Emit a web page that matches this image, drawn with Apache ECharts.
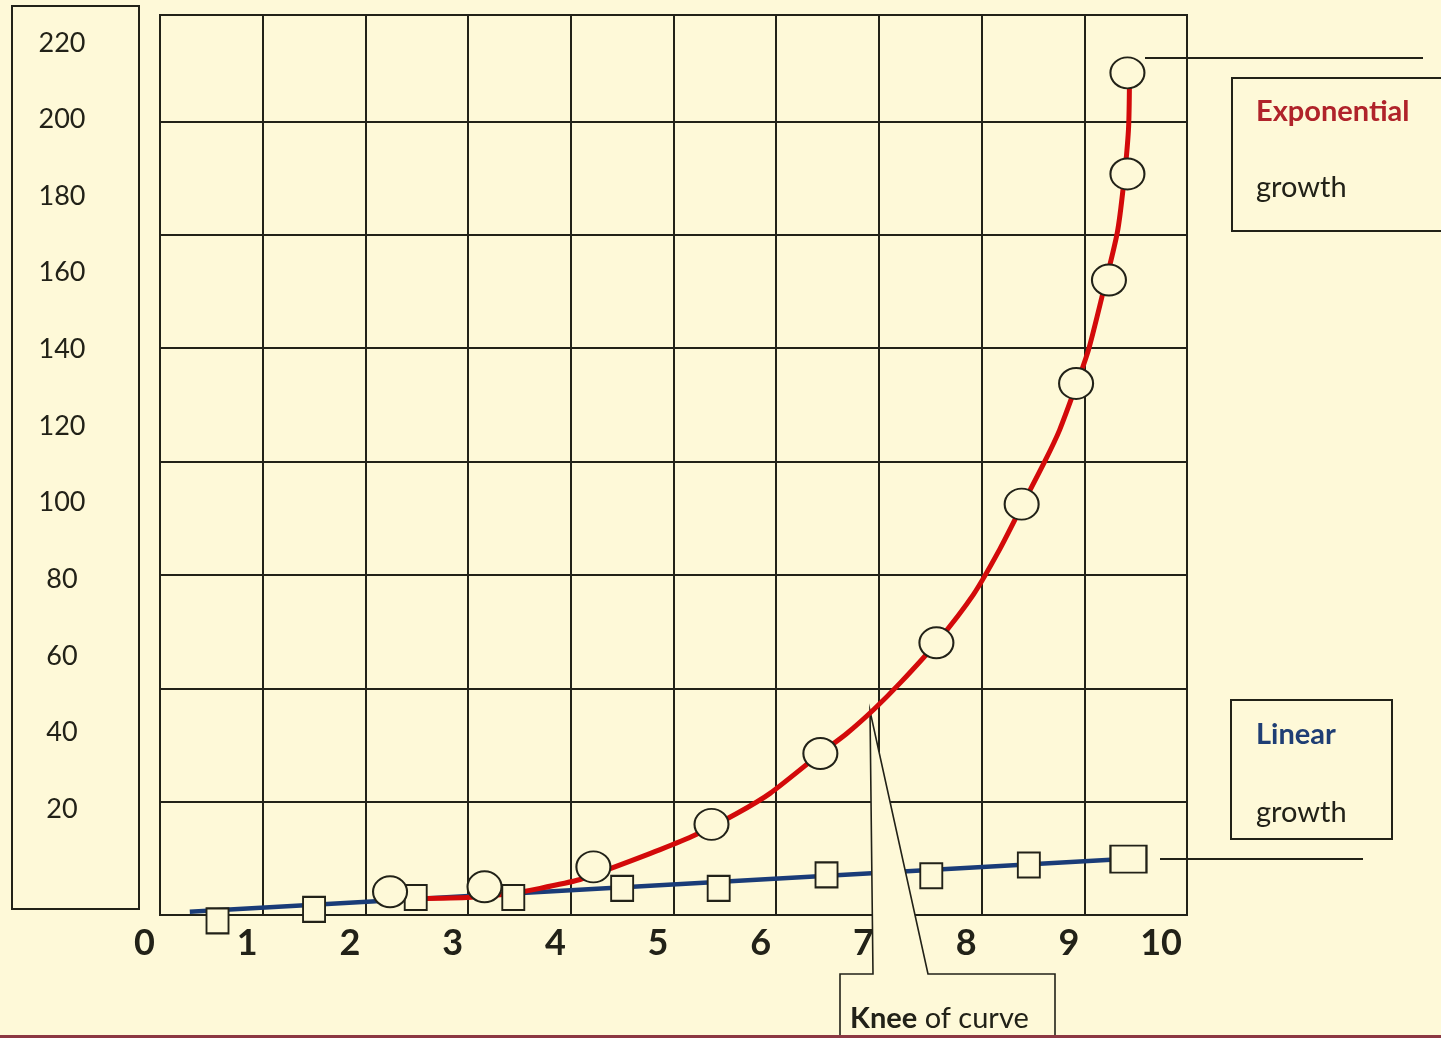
<!DOCTYPE html>
<html>
<head>
<meta charset="utf-8">
<script src="https://cdn.jsdelivr.net/npm/echarts@6/dist/echarts.min.js"></script>
<style>
html,body{margin:0;padding:0;background:#FEF9D8;}
#chart{width:1441px;height:1038px;}
</style>
</head>
<body>
<div id="chart"></div>
<script>
// ---- data ----
const yLabelValues = [20, 40, 60, 80, 100, 120, 140, 160, 180, 200, 220];
const xTickValues = [0, 1, 2, 3, 4, 5, 6, 7, 8, 9, 10];

// Exponential growth: marked points (circles)
const exponentialPoints = [
  [2.24, -1.6], [3.16, -0.3], [4.22, 4.9], [5.37, 16.0], [6.43, 34.5],
  [7.56, 63.4], [8.39, 99.6], [8.92, 131.1], [9.24, 158.1], [9.42, 185.8], [9.42, 212.2]
];
// Exponential growth: drawn curve
const exponentialCurve = [
  [2.36, -3.4], [2.99, -3.1], [3.38, -2.2], [3.70, -0.7], [4.09, 1.6], [4.35, 4.1],
  [4.87, 9.4], [5.21, 13.2], [5.62, 18.9], [5.94, 24.1], [6.43, 34.5], [6.69, 39.8],
  [6.95, 46.0], [7.21, 53.0], [7.56, 63.4], [7.92, 76.0], [8.18, 88.0], [8.39, 99.0],
  [8.62, 111.0], [8.76, 119.0], [8.92, 130.5], [9.04, 139.8], [9.18, 154.6], [9.32, 170.3],
  [9.38, 182.5], [9.43, 197.3], [9.44, 210.3]
];
// Linear growth: marked points (squares)
const linearPoints = [
  [0.56, -9.2], [1.50, -6.2], [2.49, -3.1], [3.44, -3.1], [4.50, -0.7],
  [5.44, -0.7], [6.49, 2.8], [7.51, 2.6], [8.46, 5.4], [9.43, 6.9]
];
// Linear growth: drawn straight line
const linearTrend = [[0.29, -6.8], [9.43, 7.0]];

// ---- chart ----
const BG = '#FEF9D8';
const INK = '#222218';
const chart = echarts.init(document.getElementById('chart'));

const ellipse = 'path://M0,1 A1,1 0 1,1 2,1 A1,1 0 1,1 0,1 Z';

chart.setOption({
  backgroundColor: BG,
  animation: false,
  grid: {
    left: 160, right: 254, top: 15, bottom: 123,
    show: true, borderColor: INK, borderWidth: 2, backgroundColor: 'transparent'
  },
  xAxis: {
    type: 'value', min: 0, max: 10, interval: 1,
    axisLine: { show: false }, axisTick: { show: false },
    splitLine: { show: true, lineStyle: { color: INK, width: 2 } },
    axisLabel: {
      show: true, margin: 10, align: 'right',
      padding: [0, 5, 0, 0],
      fontFamily: 'Lato', fontWeight: 'bold', fontSize: 36, color: INK,
      customValues: xTickValues
    }
  },
  yAxis: [
    {
      type: 'value', min: -7.66, max: 227.3,
      axisLine: { show: false }, axisTick: { show: false },
      splitLine: { show: false },
      axisLabel: {
        show: true, margin: 98, align: 'center',
        fontFamily: 'Lato', fontSize: 27, color: INK,
        customValues: yLabelValues
      }
    },
    {
      type: 'value', min: 0, max: 7.94, interval: 1, position: 'left',
      axisLine: { show: false }, axisTick: { show: false },
      axisLabel: { show: false },
      splitLine: { show: true, lineStyle: { color: INK, width: 2 } }
    }
  ],
  series: [
    {
      name: 'Linear growth line', type: 'line', data: linearTrend,
      symbol: 'none', z: 2, clip: false,
      lineStyle: { color: '#1A3C78', width: 4.5 }
    },
    {
      name: 'Exponential growth curve', type: 'line', data: exponentialCurve,
      symbol: 'none', smooth: 0.25, z: 4, clip: false,
      lineStyle: { color: '#D30A0A', width: 5 }
    },
    {
      name: 'Linear growth', type: 'scatter', data: linearPoints,
      symbol: 'rect', z: 4, clip: false,
      symbolSize: function (v, p) { return p.dataIndex === linearPoints.length - 1 ? [36, 27] : [22, 25]; },
      itemStyle: { color: BG, borderColor: INK, borderWidth: 2, opacity: 1 }
    },
    {
      name: 'Exponential growth', type: 'scatter', data: exponentialPoints,
      symbol: ellipse, symbolSize: [34, 31], z: 5, clip: false,
      itemStyle: { color: BG, borderColor: INK, borderWidth: 2, opacity: 1 }
    }
  ],
  graphic: [
    // y label box
    { type: 'rect', z: 1, shape: { x: 12, y: 6, width: 127, height: 903 },
      style: { fill: 'transparent', stroke: INK, lineWidth: 2 } },
    // Exponential growth box + leader line
    { type: 'line', z: 1, shape: { x1: 1145, y1: 58, x2: 1423, y2: 58 },
      style: { stroke: INK, lineWidth: 1.8 } },
    { type: 'rect', z: 1, shape: { x: 1232, y: 78, width: 240, height: 153 },
      style: { fill: 'transparent', stroke: INK, lineWidth: 2 } },
    { type: 'text', z: 6, style: { x: 1256, y: 112, text: 'Exponential', fill: '#B0232A',
      font: 'bold 29px Lato', verticalAlign: 'middle' } },
    { type: 'text', z: 6, style: { x: 1256, y: 188, text: 'growth', fill: INK,
      font: '29px Lato', verticalAlign: 'middle' } },
    // Linear growth box + leader line
    { type: 'line', z: 1, shape: { x1: 1160, y1: 859, x2: 1363, y2: 859 },
      style: { stroke: INK, lineWidth: 1.8 } },
    { type: 'rect', z: 1, shape: { x: 1231, y: 700, width: 161, height: 139 },
      style: { fill: 'transparent', stroke: INK, lineWidth: 2 } },
    { type: 'text', z: 6, style: { x: 1256, y: 735, text: 'Linear', fill: '#1F3E74',
      font: 'bold 29px Lato', verticalAlign: 'middle' } },
    { type: 'text', z: 6, style: { x: 1256, y: 813, text: 'growth', fill: INK,
      font: '29px Lato', verticalAlign: 'middle' } },
    // Knee of curve callout
    { type: 'polygon', z: 3,
      shape: { points: [[840, 1050], [840, 974], [873, 974], [870, 711], [928, 974], [1055, 974], [1055, 1050]] },
      style: { fill: BG, stroke: INK, lineWidth: 1.6 } },
    { type: 'text', z: 6, style: { x: 850, y: 1019, text: '{b|Knee} of curve',
      font: '29px Lato', fill: INK, verticalAlign: 'middle',
      rich: { b: { fontWeight: 'bold', fontSize: 29, fontFamily: 'Lato', fill: INK } } } },
    // bottom border
    { type: 'rect', z: 10, shape: { x: 0, y: 1035, width: 1441, height: 3 },
      style: { fill: '#8C3843' } }
  ]
});
</script>
</body>
</html>
